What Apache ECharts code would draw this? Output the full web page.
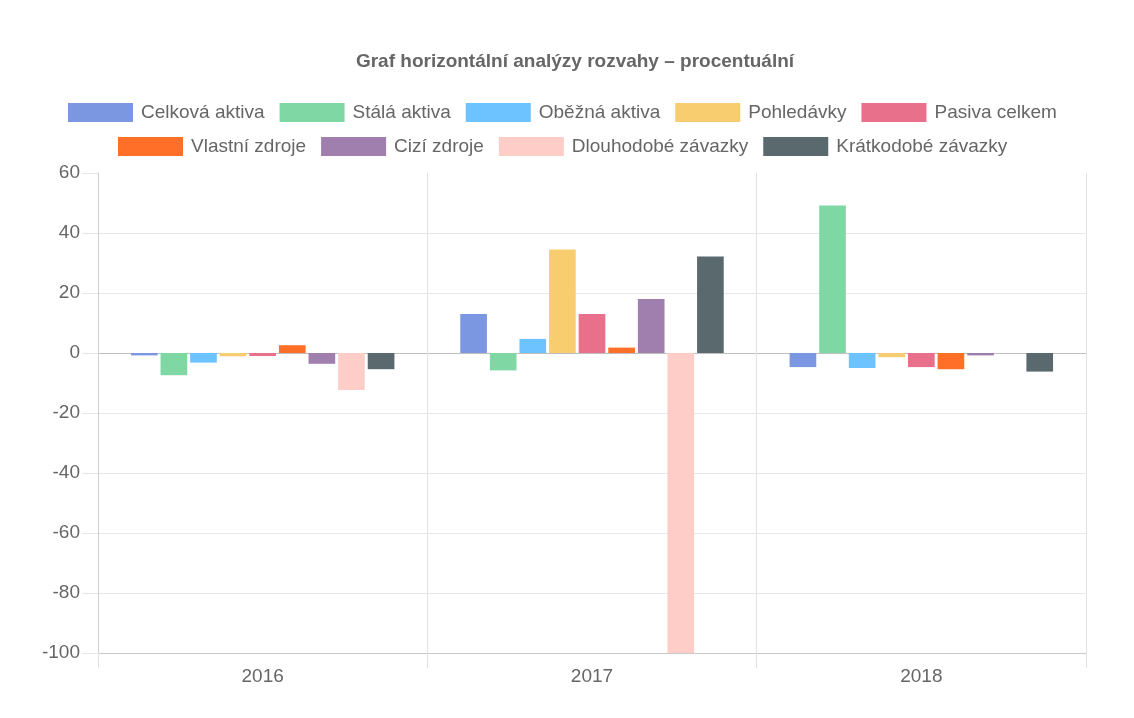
<!DOCTYPE html>
<html>
<head>
<meta charset="utf-8">
<script src="https://cdn.jsdelivr.net/npm/echarts@6/dist/echarts.min.js"></script>
<style>
  html, body { margin: 0; padding: 0; background: #fff; }
  #main { width: 1134px; height: 718px; }
</style>
</head>
<body>
<div id="main"></div>
<script>
var years = ["2016", "2017", "2018"];
var seriesNames = ["Celková aktiva", "Stálá aktiva", "Oběžná aktiva", "Pohledávky", "Pasiva celkem",
  "Vlastní zdroje", "Cizí zdroje", "Dlouhodobé závazky", "Krátkodobé závazky"];
var colors = ["#7b97e2", "#7fd8a4", "#6cc3ff", "#f8cd70", "#e8708a",
  "#ff6f28", "#a07fae", "#ffcdc8", "#5a696e"];

var celkovaAktiva = [-0.8, 13.0, -4.7];
var stalaAktiva = [-7.4, -5.8, 49.2];
var obeznaAktiva = [-3.2, 4.7, -5.0];
var pohledavky = [-1.1, 34.5, -1.4];
var pasivaCelkem = [-1.0, 13.0, -4.7];
var vlastniZdroje = [2.6, 1.8, -5.4];
var ciziZdroje = [-3.6, 18.0, -0.8];
var dlouhodobeZavazky = [-12.3, -100, 0];
var kratkodobeZavazky = [-5.4, 32.2, -6.2];

var values = [celkovaAktiva, stalaAktiva, obeznaAktiva, pohledavky, pasivaCelkem,
  vlastniZdroje, ciziZdroje, dlouhodobeZavazky, kratkodobeZavazky];

var font = "Arial, 'Liberation Sans', Helvetica, sans-serif";

var chart = echarts.init(document.getElementById("main"));

var legendBase = {
  itemWidth: 65,
  itemHeight: 19,
  itemGap: 15,
  icon: "rect",
  textStyle: { fontFamily: font, fontSize: 19, lineHeight: 19, color: "#666", padding: [0, 0, 0, 3] }
};

var series = [];
for (var i = 0; i < seriesNames.length; i++) {
  series.push({
    name: seriesNames[i],
    type: "bar",
    data: values[i],
    barGap: "11%",
    barCategoryGap: "20%",
    itemStyle: { color: colors[i] }
  });
}

var option = {
  backgroundColor: "#fff",
  color: colors,
  animation: false,
  title: {
    text: "Graf horizontální analýzy rozvahy – procentuální",
    left: 570,
    textAlign: "center",
    top: 47,
    textStyle: { fontFamily: font, fontSize: 19, fontWeight: "bold", color: "#666" }
  },
  legend: [
    Object.assign({}, legendBase, { top: 98, left: 63, data: seriesNames.slice(0, 5) }),
    Object.assign({}, legendBase, { top: 132, left: 113, data: seriesNames.slice(5) })
  ],
  grid: { left: 98, right: 48, top: 173, bottom: 65, containLabel: false },
  xAxis: {
    type: "category",
    data: years,
    axisLine: { onZero: false, lineStyle: { color: "#c8c8c8" } },
    axisTick: { show: true, length: 15, lineStyle: { color: "#e2e2e2" } },
    axisLabel: { fontFamily: font, fontSize: 19, color: "#666", margin: 14 },
    splitLine: { show: true, lineStyle: { color: "#e2e2e2" } }
  },
  yAxis: {
    type: "value",
    min: -100,
    max: 60,
    interval: 20,
    axisLine: { show: true, lineStyle: { color: "#d0d0d0" } },
    axisTick: { show: true, length: 16, lineStyle: { color: "#e6e6e6" } },
    axisLabel: { fontFamily: font, fontSize: 19, color: "#666", margin: 18 },
    splitLine: {
      show: true,
      lineStyle: {
        color: ["#c8c8c8", "#e8e8e8", "#e8e8e8", "#e8e8e8", "#e8e8e8", "#bfbfbf", "#e8e8e8", "#e8e8e8", "rgba(0,0,0,0)"]
      }
    }
  },
  series: series
};

chart.setOption(option);
</script>
</body>
</html>
